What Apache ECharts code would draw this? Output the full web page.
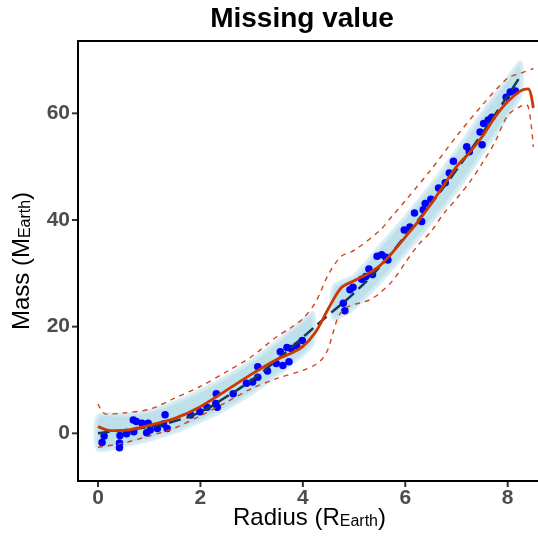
<!DOCTYPE html>
<html>
<head>
<meta charset="utf-8">
<title>Missing value</title>
<script src="https://cdn.jsdelivr.net/npm/echarts@6/dist/echarts.min.js"></script>
<style>
  html, body { margin: 0; padding: 0; background: #fff; }
  #main { width: 538px; height: 536px; }
</style>
</head>
<body>
<div id="main"></div>
<script>
// tick values
const xTicks = [0, 2, 4, 6, 8]
const yTicks = [0, 20, 40, 60]

// simulated cloud (two pieces, gap where values are missing)
const cloudX1 = [0, 0.5, 1, 1.5, 2, 2.5, 3, 3.5, 4, 4.2]
const cloudLow1 = [-3.0, -2.3, -1.2, 0.3, 2.3, 4.6, 7.5, 11.0, 14.8, 17.0]
const cloudHigh1 = [3.2, 3.5, 4.2, 5.8, 8.0, 10.5, 13.6, 17.2, 21.2, 22.5]
const cloudX2 = [4.6, 5, 5.5, 6, 6.5, 7, 7.5, 8, 8.25]
const cloudLow2 = [21.5, 23.5, 28.3, 33.8, 39.5, 45.5, 52.5, 59.5, 63.5]
const cloudHigh2 = [27.5, 29.5, 35.0, 40.5, 46.5, 53.0, 60.0, 66.5, 69.5]

// true relation (black dashed)
const trueX = [0, 0.5, 1, 1.5, 2, 2.5, 3, 3.5, 4, 4.5, 5, 5.5, 6, 6.5, 7, 7.5, 8, 8.25]
const trueY = [0, 0.6, 1.2, 2.3, 4.0, 6.8, 10.0, 13.8, 18.0, 22.2, 26.3, 31.2, 37.0, 43.0, 49.4, 56.2, 63.3, 67.0]

// fitted curve (red)
const fitX = [0, 0.25, 0.5, 1, 1.5, 2, 2.5, 3, 3.5, 3.75, 4, 4.25, 4.5, 4.75, 5, 5.25, 5.5, 5.75, 6, 6.25, 6.5, 6.75, 7, 7.25, 7.5, 7.75, 8, 8.25, 8.4, 8.5]
const fitY = [1.3, 0.5, 0.55, 1.5, 2.8, 5.0, 8.0, 11.1, 13.9, 14.9, 16.3, 19.0, 23.4, 27.3, 28.6, 29.8, 31.4, 33.9, 36.8, 39.7, 43.0, 46.5, 50.0, 52.6, 55.6, 59.3, 62.2, 64.2, 64.6, 61.0]

// confidence band (red dashed)
const upperX = [0, 0.15, 0.5, 1, 1.5, 2, 2.5, 3, 3.5, 3.75, 4, 4.25, 4.5, 4.75, 5, 5.5, 5.75, 6, 6.5, 7, 7.5, 8, 8.25, 8.5]
const upperY = [5.5, 3.6, 3.8, 4.5, 6.6, 8.8, 11.5, 14.4, 18.2, 19.7, 21.5, 24.6, 29.8, 33.2, 34.3, 38.0, 40.8, 43.6, 49.4, 55.7, 61.5, 66.6, 67.5, 68.4]
const lowerX = [0, 0.5, 1, 1.25, 1.5, 2, 2.5, 3, 3.5, 4, 4.25, 4.4, 4.5, 4.6, 4.7, 4.85, 5.3, 5.5, 5.75, 6, 6.25, 6.5, 6.75, 7, 7.25, 7.5, 7.75, 8, 8.25, 8.37, 8.45, 8.5]
const lowerY = [-2.6, -1.8, -0.5, 0.2, 1.0, 3.3, 5.8, 8.4, 10.3, 11.8, 12.9, 14.2, 16.0, 19.2, 22.0, 23.6, 25.0, 26.3, 28.6, 32.0, 35.3, 37.8, 41.2, 44.0, 47.0, 50.6, 54.6, 59.6, 61.3, 61.6, 58.5, 53.7]

// observed points (blue)
const obsX = [0.08, 0.12, 0.42, 0.42, 0.43, 0.56, 0.69, 0.75, 0.7, 0.86, 0.98, 0.95, 1.02, 1.16, 1.28, 1.31, 1.35,
  1.81, 1.99, 2.13, 2.3, 2.33, 2.31, 2.64, 2.9, 3.02, 3.12, 3.12, 3.31, 3.48, 3.56, 3.61, 3.69, 3.73, 3.77, 3.88, 3.99,
  4.79, 4.82, 4.92, 4.98, 5.15, 5.23, 5.29, 5.36, 5.45, 5.54, 5.62, 5.66, 5.98, 6.09, 6.18, 6.32, 6.35, 6.39, 6.5,
  6.65, 6.78, 6.86, 6.94, 7.2, 7.25, 7.46, 7.5, 7.53, 7.62, 7.69, 7.97, 8.05, 8.15]
const obsY = [-1.7, -0.5, -1.8, -2.7, -0.4, -0.1, 2.5, 2.2, 0.3, 1.9, 1.9, 0.1, 0.6, 0.9, 1.75, 3.5, 0.9,
  3.45, 4.05, 4.9, 5.6, 4.9, 7.4, 7.4, 9.4, 9.6, 10.5, 12.5, 11.7, 13.1, 15.3, 12.7, 16.1, 13.4, 15.9, 16.4, 17.4,
  24.4, 23.0, 26.9, 27.4, 28.9, 29.4, 30.8, 29.8, 33.2, 33.5, 33.0, 32.5, 38.1, 38.7, 41.3, 39.7, 41.9, 43.1, 43.9,
  46.0, 47.0, 48.8, 51.0, 53.75, 52.8, 56.5, 54.1, 58.1, 58.75, 59.25, 63.0, 64.0, 64.2]

const X_MIN = -0.39
const X_MAX = 8.65
const Y_MIN = -8.94
const Y_MAX = 73.56

const FONT = 'Liberation Sans, Arial, Helvetica, sans-serif'

const zip = (xs, ys) => xs.map((x, i) => [x, ys[i]])

const cloudSegs = [
  { x: cloudX1, lo: cloudLow1, hi: cloudHigh1 },
  { x: cloudX2, lo: cloudLow2, hi: cloudHigh2 }
]

// draw each cloud piece as a polygon through the axis scales
function renderCloud(params, api) {
  const seg = cloudSegs[params.dataIndex]
  const pts = []
  seg.x.forEach((x, i) => pts.push(api.coord([x, seg.hi[i]])))
  for (let i = seg.x.length - 1; i >= 0; i--) pts.push(api.coord([seg.x[i], seg.lo[i]]))
  return {
    type: 'polygon',
    shape: { points: pts, smooth: 0.25 },
    style: { fill: '#add8e6', opacity: 0.8, stroke: '#d3eaf2', lineWidth: 4 }
  }
}

// outward tick marks
const TICK_LEN = 6
function renderXTick(params, api) {
  const p = api.coord([api.value(0), Y_MIN])
  return { type: 'line', shape: { x1: p[0], y1: p[1] + 1, x2: p[0], y2: p[1] + TICK_LEN }, style: { stroke: '#333', lineWidth: 2 } }
}
function renderYTick(params, api) {
  const p = api.coord([X_MIN, api.value(1)])
  return { type: 'line', shape: { x1: p[0] - TICK_LEN, y1: p[1], x2: p[0] - 1, y2: p[1] }, style: { stroke: '#333', lineWidth: 2 } }
}

const chart = echarts.init(document.getElementById('main'))

const axisName = {
  a: { fontSize: 24, lineHeight: 24, fontFamily: FONT, color: '#000' },
  b: { fontSize: 16, lineHeight: 12, verticalAlign: 'bottom', fontFamily: FONT, color: '#000' }
}

const option = {
  animation: false,
  backgroundColor: '#fff',
  graphic: [{
    type: 'text',
    x: 302,
    y: 19,
    style: {
      text: 'Missing value',
      font: 'bold 28px ' + FONT,
      fill: '#000',
      textAlign: 'center',
      textVerticalAlign: 'middle'
    }
  }],
  grid: {
    show: true,
    left: 78,
    top: 41,
    right: -3,
    bottom: 55,
    containLabel: false,
    outerBoundsMode: 'none',
    borderColor: '#000',
    borderWidth: 2,
    backgroundColor: 'transparent'
  },
  xAxis: {
    type: 'value',
    min: X_MIN,
    max: X_MAX,
    axisLine: { show: true, onZero: false, lineStyle: { color: '#000', width: 2 } },
    splitLine: { show: false },
    axisTick: { show: false },
    axisLabel: { customValues: xTicks, color: '#4d4d4d', fontSize: 21, fontWeight: 'bold', fontFamily: FONT, margin: 7 },
    name: '{a|Radius (R}{b|Earth}{a|)}',
    nameLocation: 'middle',
    nameGap: 25,
    nameMoveOverlap: false,
    nameTextStyle: { rich: axisName }
  },
  yAxis: {
    type: 'value',
    min: Y_MIN,
    max: Y_MAX,
    axisLine: { show: true, onZero: false, lineStyle: { color: '#000', width: 2 } },
    splitLine: { show: false },
    axisTick: { show: false },
    axisLabel: { customValues: yTicks, color: '#4d4d4d', fontSize: 21, fontWeight: 'bold', fontFamily: FONT, margin: 8 },
    name: '{a|Mass (M}{b|Earth}{a|)}',
    nameLocation: 'middle',
    nameRotate: 90,
    nameGap: 44,
    nameMoveOverlap: false,
    nameTextStyle: { rich: axisName }
  },
  series: [
    {
      type: 'custom',
      renderItem: renderCloud,
      clip: true,
      data: [[cloudX1[0], cloudLow1[0]], [cloudX2[0], cloudLow2[0]]],
      z: 1
    },
    {
      type: 'scatter',
      data: zip(obsX, obsY),
      symbolSize: 7.5,
      itemStyle: { color: '#0000ff', opacity: 1 },
      z: 2
    },
    {
      type: 'line',
      data: zip(trueX, trueY),
      smooth: true,
      showSymbol: false,
      lineStyle: { color: '#163a5a', width: 2.5, type: [12, 6] },
      z: 3
    },
    {
      type: 'line',
      data: zip(upperX, upperY),
      smooth: 0.3,
      showSymbol: false,
      lineStyle: { color: '#d2431a', width: 1.4, type: [5, 5] },
      z: 4
    },
    {
      type: 'line',
      data: zip(lowerX, lowerY),
      smooth: 0.3,
      showSymbol: false,
      lineStyle: { color: '#d2431a', width: 1.4, type: [5, 5] },
      z: 4
    },
    {
      type: 'line',
      data: zip(fitX, fitY),
      smooth: 0.3,
      showSymbol: false,
      lineStyle: { color: '#cd3700', width: 2.8 },
      z: 5
    },
    {
      type: 'custom',
      renderItem: renderXTick,
      clip: false,
      silent: true,
      data: xTicks.map(v => [v, Y_MIN]),
      z: 10
    },
    {
      type: 'custom',
      renderItem: renderYTick,
      clip: false,
      silent: true,
      data: yTicks.map(v => [X_MIN, v]),
      z: 10
    }
  ]
}

chart.setOption(option)
</script>
</body>
</html>
